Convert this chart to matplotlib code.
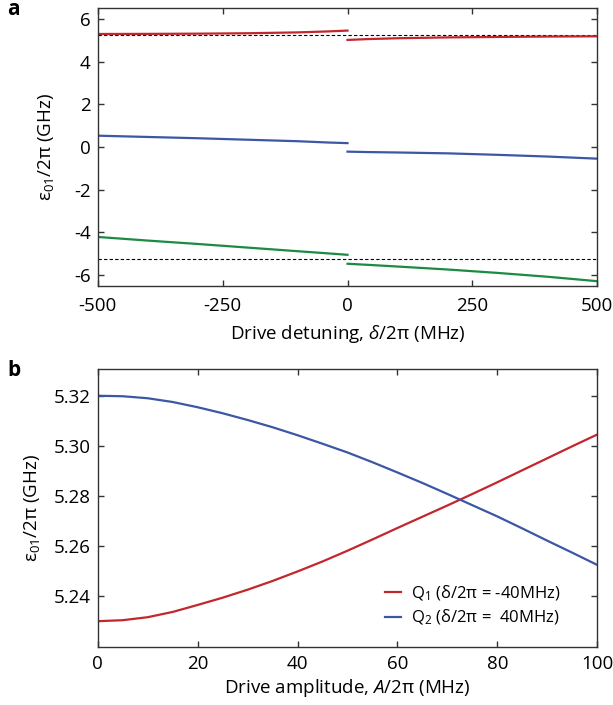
import matplotlib
matplotlib.use("Agg")
import matplotlib.pyplot as plt

plt.rcParams['font.family'] = ['Open Sans', 'DejaVu Sans']
plt.rcParams['mathtext.fontset'] = 'custom'
plt.rcParams['mathtext.rm'] = 'Open Sans'
plt.rcParams['mathtext.it'] = 'Open Sans:italic'
plt.rcParams['axes.unicode_minus'] = False
FS = 13.5
plt.rcParams['font.size'] = FS

# ---- Panel a data ----
det_left = [-500, -400, -300, -200, -100, -40, 0]
red_left = [5.31, 5.315, 5.325, 5.345, 5.385, 5.43, 5.47]
blue_left = [0.53, 0.47, 0.41, 0.34, 0.27, 0.21, 0.18]
green_left = [-4.23, -4.40, -4.56, -4.73, -4.90, -5.00, -5.07]

det_right = [0, 40, 100, 200, 300, 400, 500]
red_right = [5.03, 5.07, 5.11, 5.15, 5.17, 5.19, 5.20]
blue_right = [-0.22, -0.24, -0.26, -0.30, -0.37, -0.45, -0.55]
green_right = [-5.49, -5.54, -5.62, -5.76, -5.92, -6.10, -6.31]

dashed_levels = [5.27, -5.27]

# ---- Panel b data ----
amp = [0, 5, 10, 15, 20, 25, 30, 35, 40, 45, 50, 55, 60, 65, 70, 75, 80, 85, 90, 95, 100]
q1 = [5.2298, 5.2302, 5.2314, 5.2335, 5.2363, 5.2392, 5.2424, 5.2459, 5.2497, 5.2537,
      5.2580, 5.2625, 5.2671, 5.2716, 5.2761, 5.2807, 5.2854, 5.2902, 5.2950, 5.2998, 5.3045]
q2 = [5.3200, 5.3198, 5.3190, 5.3175, 5.3154, 5.3130, 5.3103, 5.3074, 5.3042, 5.3008,
      5.2973, 5.2934, 5.2893, 5.2851, 5.2807, 5.2762, 5.2717, 5.2669, 5.2620, 5.2572, 5.2523]

RED = '#c1272d'
BLUE = '#3b57a6'
GREEN = '#1b8a43'
SPINE = '#333333'

fig = plt.figure(figsize=(6.13, 7.05), dpi=100)
axa = fig.add_axes([0.1594, 0.5948, 0.815, 0.3935])
axb = fig.add_axes([0.1594, 0.0827, 0.815, 0.3939])

def style(ax, xpad):
    for s in ax.spines.values():
        s.set_color(SPINE)
        s.set_linewidth(1.0)
    ax.tick_params(direction='in', top=True, right=True, length=4, width=1.0,
                   color=SPINE, labelsize=FS)
    ax.tick_params(axis='y', pad=5)
    ax.tick_params(axis='x', pad=xpad)

# Panel a
for lev in dashed_levels:
    axa.axhline(lev, color='black', lw=0.8, ls=(0, (3, 2)), zorder=1)
axa.plot(det_left, red_left, color=RED, lw=1.6)
axa.plot(det_right, red_right, color=RED, lw=1.6)
axa.plot(det_left, blue_left, color=BLUE, lw=1.6)
axa.plot(det_right, blue_right, color=BLUE, lw=1.6)
axa.plot(det_left, green_left, color=GREEN, lw=1.6)
axa.plot(det_right, green_right, color=GREEN, lw=1.6)
axa.set_xlim(-500, 500)
axa.set_ylim(-6.52, 6.52)
axa.set_xticks([-500, -250, 0, 250, 500])
axa.set_yticks([-6, -4, -2, 0, 2, 4, 6])
style(axa, 8)
axa.set_xlabel(r'Drive detuning, $\it{δ}$/2π (MHz)', labelpad=6)
axa.set_ylabel(r'ε$_{01}$/2π (GHz)')
axa.yaxis.set_label_coords(-0.0835, 0.5)

# Panel b
axb.plot(amp, q1, color=RED, lw=1.6, label=r'Q$_1$ (δ/2π = -40MHz)')
axb.plot(amp, q2, color=BLUE, lw=1.6, label=r'Q$_2$ (δ/2π =  40MHz)')
axb.set_xlim(0, 100)
axb.set_ylim(5.2196, 5.3307)
axb.set_xticks([0, 20, 40, 60, 80, 100])
axb.set_yticks([5.24, 5.26, 5.28, 5.30, 5.32])
axb.set_yticklabels(['5.24', '5.26', '5.28', '5.30', '5.32'])
style(axb, 6)
axb.set_xlabel(r'Drive amplitude, $A$/2π (MHz)', labelpad=3)
axb.set_ylabel(r'ε$_{01}$/2π (GHz)')
axb.yaxis.set_label_coords(-0.1115, 0.5)
axb.legend(loc='lower right', bbox_to_anchor=(0.927, 0.07), frameon=False,
           handlelength=1.0, handletextpad=0.6, labelspacing=0.3, fontsize=12,
           borderaxespad=0, borderpad=0)

fig.text(0.012, 0.987, 'a', fontsize=15, fontweight='bold', va='center', ha='left')
fig.text(0.012, 0.475, 'b', fontsize=15, fontweight='bold', va='center', ha='left')

fig.savefig('out.png', dpi=100)
